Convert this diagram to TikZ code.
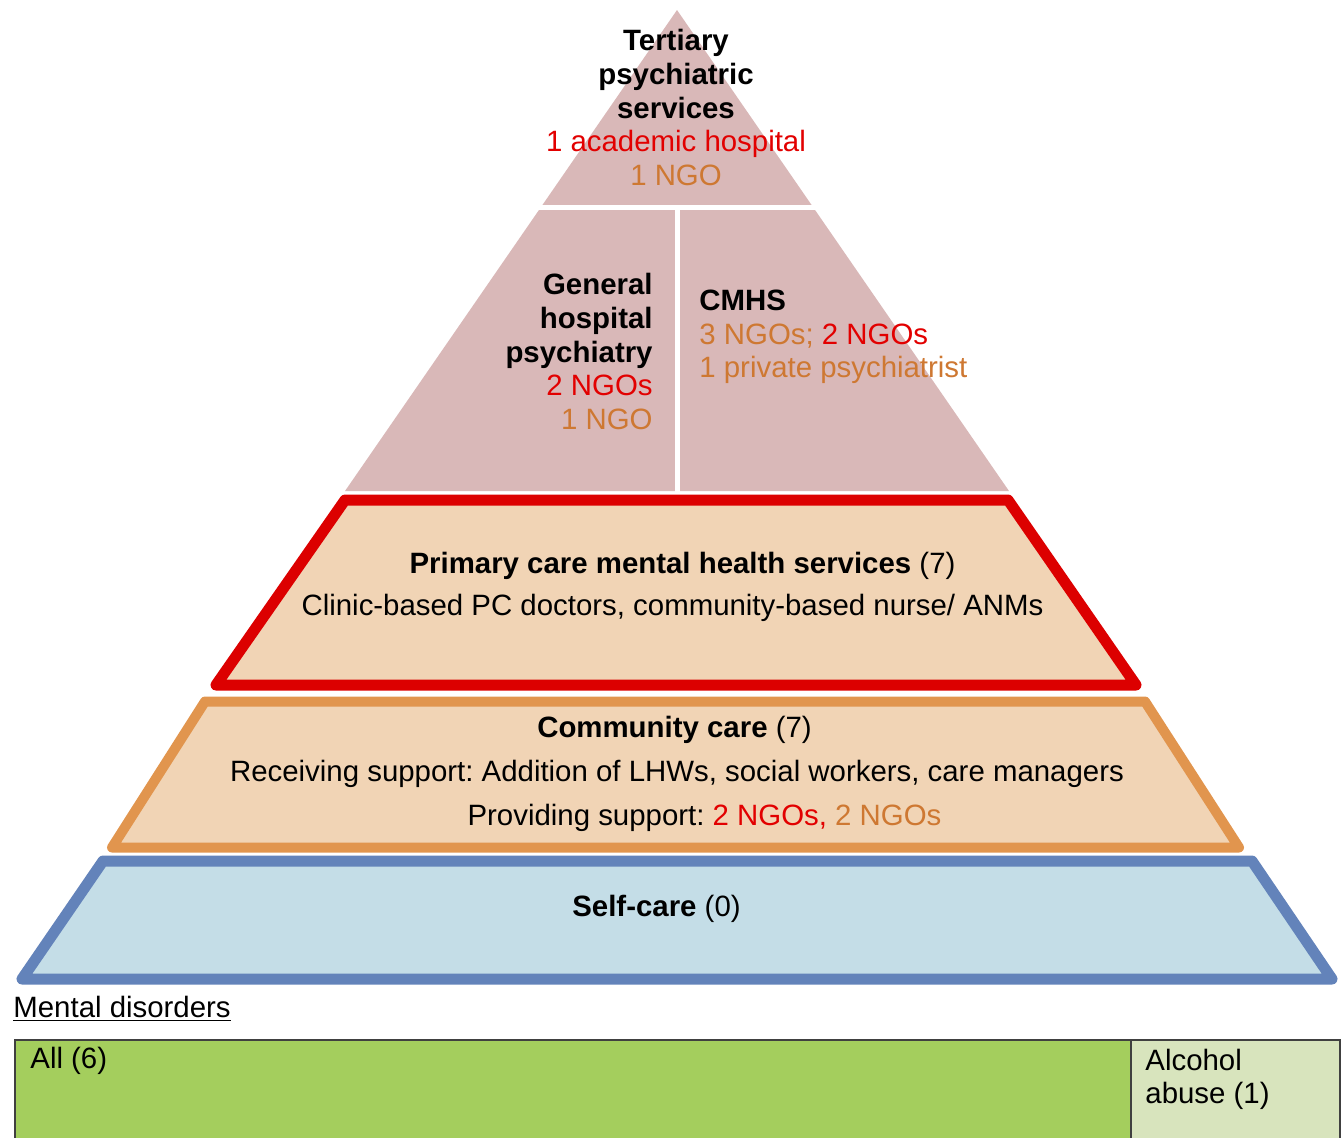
\documentclass[tikz,border=0pt]{standalone}
\usepackage{fontspec}
\setmainfont{Liberation Sans}
\usepackage{tikz}
\usepackage{xcolor}
\usetikzlibrary{positioning}
\frenchspacing
\definecolor{tierfill}{RGB}{217, 184, 184}
\definecolor{peach}{RGB}{241, 212, 181}
\definecolor{selffill}{RGB}{196, 221, 231}
\definecolor{pcred}{RGB}{220, 0, 0}
\definecolor{ccorange}{RGB}{225, 149, 78}
\definecolor{scblue}{RGB}{99, 131, 186}
\definecolor{txtred}{RGB}{226, 0, 0}
\definecolor{txtorange}{RGB}{206, 120, 50}
\definecolor{allgreen}{RGB}{164, 206, 93}
\definecolor{alcgreen}{RGB}{216, 228, 189}
\tikzstyle{tier} = [
	fill=tierfill,
	draw=none
]
\tikzstyle{gap} = [
	white,
	line width=2.6pt
]
\tikzstyle{pcband} = [
	fill=peach,
	draw=pcred,
	line width=5.5pt,
	line join=round
]
\tikzstyle{ccband} = [
	fill=peach,
	draw=ccorange,
	line width=5pt,
	line join=round
]
\tikzstyle{scband} = [
	fill=selffill,
	draw=scblue,
	line width=5.5pt,
	line join=round
]
\tikzstyle{txt} = [
	inner sep=0pt,
	font=\fontsize{14.7}{16.85}\selectfont
]
\tikzstyle{disbox} = [
	draw=black!75,
	line width=0.7pt
]

\begin{document}
\begin{tikzpicture}[x=0.5pt, y=-0.5pt]
	\useasboundingbox (0,0) rectangle (1343,1137);
	
	%
	% Upper tiers
	\fill[tier] (677,10) -- (1009,491) -- (345,491) -- cycle;
	\draw[gap] (520,207.5) -- (840,207.5);
	\draw[gap] (677.5,207.5) -- (677.5,493);
	
	\node[txt, align=center] (tertiary) at (676,107.5) {\textbf{Tertiary}\\\textbf{psychiatric}\\\textbf{services}\\\textcolor{txtred}{1 academic hospital}\\\textcolor{txtorange}{1 NGO}};
	\node[txt, align=right, anchor=east] (ghp) at (653,351.5) {\textbf{General}\\\textbf{hospital}\\\textbf{psychiatry}\\\textcolor{txtred}{2 NGOs}\\\textcolor{txtorange}{1 NGO}};
	\node[txt, align=left, anchor=west] (cmhs) at (699,337) {\textbf{CMHS}\\\textcolor{txtorange}{3 NGOs;} \textcolor{txtred}{2 NGOs}\\\textcolor{txtorange}{1 private psychiatrist}};
	
	%
	% Bands
	\draw[pcband] (345,500) -- (1008,500) -- (1136,685) -- (216,685) -- cycle;
	\draw[ccband] (205,701.5) -- (1145,701.5) -- (1239,847.5) -- (112,847.5) -- cycle;
	\draw[scband] (103,861) -- (1252,861) -- (1332,979) -- (22,979) -- cycle;
	
	\node[txt, anchor=base] (pctitle) at (682.5,573) {\textbf{Primary care mental health services} (7)};
	\node[txt, anchor=base] (pcsub) at (672.5,615) {Clinic-based PC doctors, community-based nurse/ ANMs};
	
	\node[txt, anchor=base] (cctitle) at (674.5,737) {\textbf{Community care} (7)};
	\node[txt, anchor=base] (ccrecv) at (677,781) {Receiving support: Addition of LHWs, social workers, care managers};
	\node[txt, anchor=base] (ccprov) at (704.5,825) {Providing support: \textcolor{txtred}{2 NGOs,} \textcolor{txtorange}{2 NGOs}};
	
	\node[txt, anchor=base] (sctitle) at (656.5,916) {\textbf{Self-care} (0)};
	
	%
	% Mental disorders
	\node[txt, anchor=base west] (mdtitle) at (13,1017) {\underline{Mental disorders}};
	\draw[disbox, fill=allgreen] (15,1040) rectangle (1131,1150);
	\draw[disbox, fill=alcgreen] (1131,1040) rectangle (1340,1150);
	\node[txt, anchor=base west] (mdall) at (30,1068) {All (6)};
	\node[txt, anchor=base west] (mdalc) at (1145,1070) {Alcohol};
	\node[txt, anchor=base west] (mdabuse) at (1145,1103) {abuse (1)};
	
\end{tikzpicture}
\end{document}
